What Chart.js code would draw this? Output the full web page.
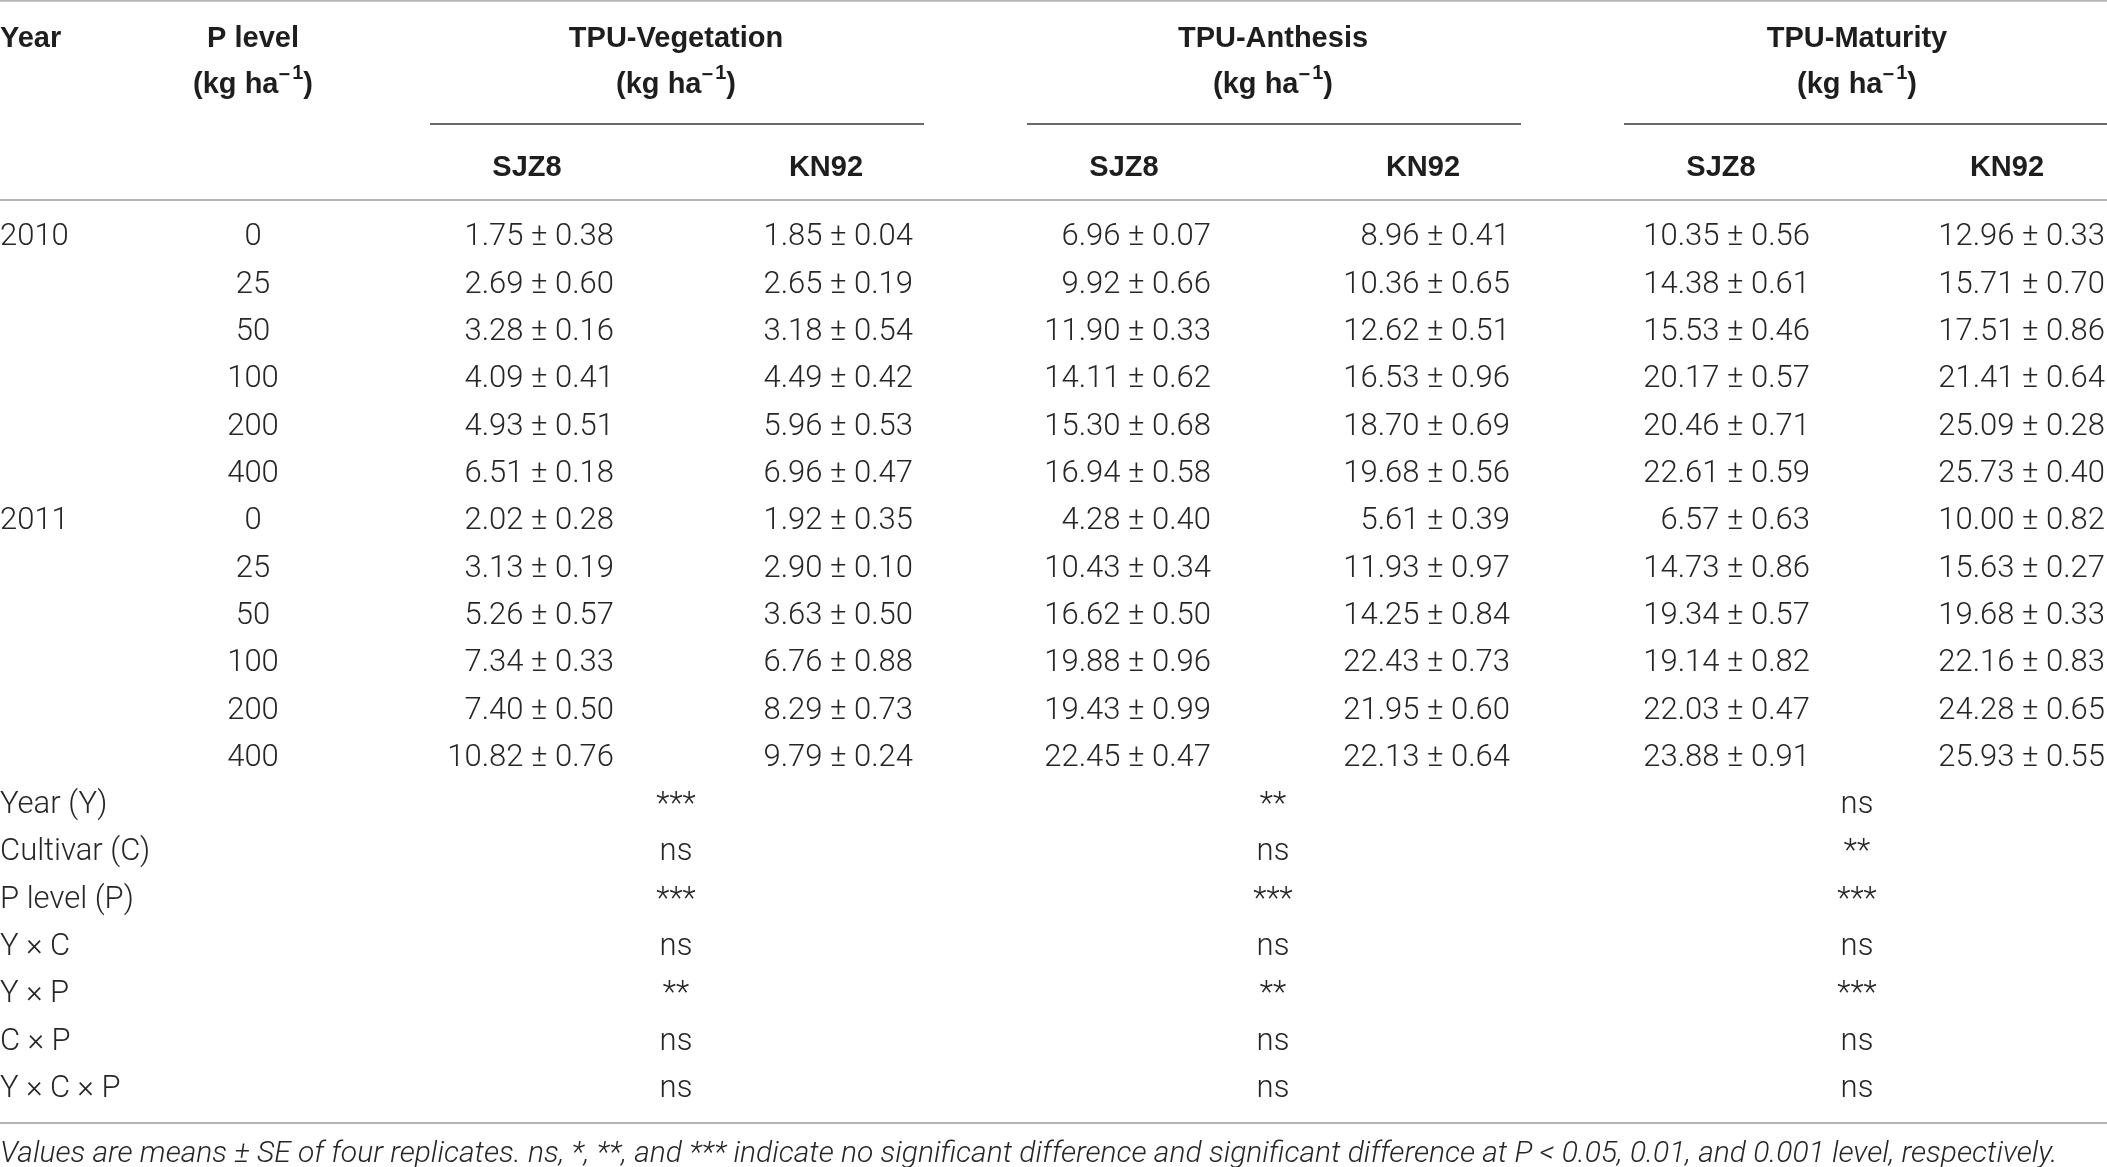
<!DOCTYPE html>
<html>
<head>
<meta charset="utf-8">
<script src="https://cdn.jsdelivr.net/npm/chart.js@4.4.1/dist/chart.umd.min.js"></script>
<style>
  html, body { margin: 0; padding: 0; background: #fff; }
  canvas { display: block; }
</style>
</head>
<body>
<canvas id="tpuTable" width="2107" height="1167"></canvas>
<script>
// Table values (mean and SE per column, rows = year x P level)
const years = ['2010', '2011'];
const pLevels = [0, 25, 50, 100, 200, 400];
const stages = ['TPU-Vegetation', 'TPU-Anthesis', 'TPU-Maturity'];
const cultivars = ['SJZ8', 'KN92'];

const vegSJZ8Mean = [1.75, 2.69, 3.28, 4.09, 4.93, 6.51, 2.02, 3.13, 5.26, 7.34, 7.40, 10.82];
const vegSJZ8SE   = [0.38, 0.60, 0.16, 0.41, 0.51, 0.18, 0.28, 0.19, 0.57, 0.33, 0.50, 0.76];
const vegKN92Mean = [1.85, 2.65, 3.18, 4.49, 5.96, 6.96, 1.92, 2.90, 3.63, 6.76, 8.29, 9.79];
const vegKN92SE   = [0.04, 0.19, 0.54, 0.42, 0.53, 0.47, 0.35, 0.10, 0.50, 0.88, 0.73, 0.24];
const anthSJZ8Mean = [6.96, 9.92, 11.90, 14.11, 15.30, 16.94, 4.28, 10.43, 16.62, 19.88, 19.43, 22.45];
const anthSJZ8SE   = [0.07, 0.66, 0.33, 0.62, 0.68, 0.58, 0.40, 0.34, 0.50, 0.96, 0.99, 0.47];
const anthKN92Mean = [8.96, 10.36, 12.62, 16.53, 18.70, 19.68, 5.61, 11.93, 14.25, 22.43, 21.95, 22.13];
const anthKN92SE   = [0.41, 0.65, 0.51, 0.96, 0.69, 0.56, 0.39, 0.97, 0.84, 0.73, 0.60, 0.64];
const matSJZ8Mean = [10.35, 14.38, 15.53, 20.17, 20.46, 22.61, 6.57, 14.73, 19.34, 19.14, 22.03, 23.88];
const matSJZ8SE   = [0.56, 0.61, 0.46, 0.57, 0.71, 0.59, 0.63, 0.86, 0.57, 0.82, 0.47, 0.91];
const matKN92Mean = [12.96, 15.71, 17.51, 21.41, 25.09, 25.73, 10.00, 15.63, 19.68, 22.16, 24.28, 25.93];
const matKN92SE   = [0.33, 0.70, 0.86, 0.64, 0.28, 0.40, 0.82, 0.27, 0.33, 0.83, 0.65, 0.55];

// ANOVA significance
const effects = ['Year (Y)', 'Cultivar (C)', 'P level (P)', 'Y \u00d7 C', 'Y \u00d7 P', 'C \u00d7 P', 'Y \u00d7 C \u00d7 P'];
const sigVeg  = ['***', 'ns', '***', 'ns', '**', 'ns', 'ns'];
const sigAnth = ['**', 'ns', '***', 'ns', '**', 'ns', 'ns'];
const sigMat  = ['ns', '**', '***', 'ns', '***', 'ns', 'ns'];

const footnote = 'Values are means \u00b1 SE of four replicates. ns, *, **, and *** indicate no significant difference and significant difference at P < 0.05, 0.01, and 0.001 level, respectively.';

// Layout (x in page units, y in row units; row 0 = first data row)
const colYear = 0;
const colP = 253;
const colRight = [614, 913, 1211, 1510, 1810, 2105];
const colHead = [527, 826, 1124, 1423, 1721, 2007];
const groupMid = [676, 1273, 1857];
const groupSpan = [[430, 924], [1027, 1521], [1624, 2107]];
const rowHead1 = -4.207, rowHead2 = -3.235, rowGroupLine = -2.347, rowHead3 = -1.48;
const rowTopLine = -4.95, rowHeadLine = -0.74, rowBottomLine = 18.77, rowNote = 19.37;
const textDy = 0.057; // text sits a little below the em middle

const bodyFont = '300 31px Roboto, "Liberation Sans", sans-serif';
const boldFont = 'bold 29px "Liberation Sans", Arial, sans-serif';
const supFont = 'bold 20px "Liberation Sans", Arial, sans-serif';
const noteFont = 'italic 300 30px Roboto, "Liberation Sans", sans-serif';
const textColor = '#262626';

const valueCols = [
  [vegSJZ8Mean, vegSJZ8SE], [vegKN92Mean, vegKN92SE],
  [anthSJZ8Mean, anthSJZ8SE], [anthKN92Mean, anthKN92SE],
  [matSJZ8Mean, matSJZ8SE], [matKN92Mean, matKN92SE]
];
const sigCols = [sigVeg, sigAnth, sigMat];

// one invisible point per cell, the plugin writes the text at that point
const datasets = valueCols.map(function(col, c) {
  return {
    label: stages[Math.floor(c / 2)] + ' ' + cultivars[c % 2],
    data: col[0].map(function(m, i) { return { x: colRight[c], y: i + textDy }; }),
    pointRadius: 0
  };
});
datasets.push({
  label: 'P level',
  data: pLevels.concat(pLevels).map(function(p, i) { return { x: colP, y: i + textDy }; }),
  pointRadius: 0
});
sigCols.forEach(function(col, g) {
  datasets.push({
    label: 'sig ' + stages[g],
    data: col.map(function(s, i) { return { x: groupMid[g], y: 12 + i + textDy }; }),
    pointRadius: 0
  });
});

function drawUnit(ctx, x, y) {
  // "(kg ha" + superscript "−1" + ")", centred on x
  ctx.font = boldFont;
  const w1 = ctx.measureText('(kg ha').width;
  const w3 = ctx.measureText(')').width;
  ctx.font = supFont;
  const w2 = ctx.measureText('\u2212').width;
  const w2b = ctx.measureText('1').width;
  const total = w1 + w2 + 2 + w2b + w3;
  const x0 = x - total / 2;
  ctx.textAlign = 'left';
  ctx.font = boldFont;
  ctx.fillText('(kg ha', x0, y);
  ctx.font = supFont;
  ctx.fillText('\u2212', x0 + w1, y - 9);
  ctx.fillText('1', x0 + w1 + w2 + 2, y - 11);
  ctx.font = boldFont;
  ctx.fillText(')', x0 + w1 + w2 + 2 + w2b, y);
}

const tablePlugin = {
  id: 'tableCells',
  afterDatasetsDraw(chart) {
    const ctx = chart.ctx;
    const xs = chart.scales.x, ys = chart.scales.y;
    const X = function(v) { return xs.getPixelForValue(v); };
    const Y = function(v) { return ys.getPixelForValue(v); };
    const TY = function(v) { return ys.getPixelForValue(v + textDy); };
    ctx.save();

    // rules
    function hline(x1, x2, r, color, w) {
      ctx.strokeStyle = color;
      ctx.lineWidth = w;
      ctx.beginPath();
      ctx.moveTo(X(x1), Y(r));
      ctx.lineTo(X(x2), Y(r));
      ctx.stroke();
    }
    hline(0, 2107, rowTopLine, '#b4b4b4', 2);
    hline(0, 2107, rowHeadLine, '#b4b4b4', 2);
    hline(0, 2107, rowBottomLine, '#b4b4b4', 2);
    groupSpan.forEach(function(s) { hline(s[0], s[1], rowGroupLine, '#6a6a6a', 2); });

    ctx.fillStyle = '#1e1e1e';
    ctx.textBaseline = 'middle';

    // header
    ctx.font = boldFont;
    ctx.textAlign = 'left';
    ctx.fillText('Year', X(colYear), TY(rowHead1));
    ctx.textAlign = 'center';
    ctx.fillText('P level', X(colP), TY(rowHead1));
    drawUnit(ctx, X(colP), TY(rowHead2));
    stages.forEach(function(s, g) {
      ctx.font = boldFont;
      ctx.textAlign = 'center';
      ctx.fillText(s, X(groupMid[g]), TY(rowHead1));
      drawUnit(ctx, X(groupMid[g]), TY(rowHead2));
    });
    ctx.font = boldFont;
    ctx.textAlign = 'center';
    colHead.forEach(function(cx, c) {
      ctx.fillText(cultivars[c % 2], X(cx), TY(rowHead3));
    });

    // body
    ctx.fillStyle = textColor;
    ctx.font = bodyFont;
    ctx.textAlign = 'left';
    years.forEach(function(yr, k) { ctx.fillText(yr, X(colYear), TY(k * 6)); });
    effects.forEach(function(e, i) { ctx.fillText(e, X(colYear), TY(12 + i)); });

    chart.data.datasets.forEach(function(ds, d) {
      const meta = chart.getDatasetMeta(d);
      meta.data.forEach(function(pt, i) {
        let txt, align;
        if (d < 6) {
          txt = valueCols[d][0][i].toFixed(2) + ' \u00b1 ' + valueCols[d][1][i].toFixed(2);
          align = 'right';
        } else if (d === 6) {
          txt = String(pLevels[i % 6]);
          align = 'center';
        } else {
          txt = sigCols[d - 7][i];
          align = 'center';
        }
        ctx.textAlign = align;
        ctx.fillText(txt, pt.x, pt.y);
      });
    });

    // footnote
    ctx.font = noteFont;
    ctx.textAlign = 'left';
    ctx.fillText(footnote, X(0), TY(rowNote));
    ctx.restore();
  }
};

new Chart(document.getElementById('tpuTable'), {
  type: 'scatter',
  data: { datasets: datasets },
  options: {
    responsive: false,
    animation: false,
    devicePixelRatio: 1,
    layout: { padding: 0 },
    plugins: { legend: { display: false }, tooltip: { enabled: false } },
    scales: {
      x: { type: 'linear', display: false, min: 0, max: 2107 },
      y: { type: 'linear', display: false, reverse: true, min: -4.968, max: 19.70 }
    }
  },
  plugins: [tablePlugin]
});
</script>
</body>
</html>
